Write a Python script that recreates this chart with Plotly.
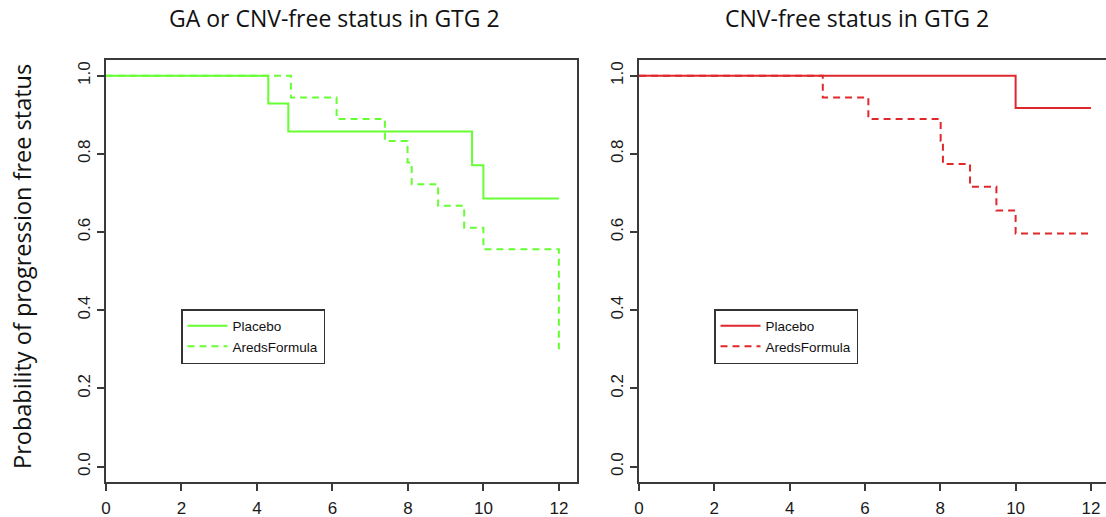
import plotly.graph_objects as go

# ---- data ----
titles = ["GA or CNV-free status in GTG 2", "CNV-free status in GTG 2"]
y_title = "Probability of progression free status"
series_names = ["Placebo", "AredsFormula"]

left_placebo_t = [0, 4.30, 4.83, 9.70, 10.0, 12.0]
left_placebo_s = [1.0, 0.929, 0.857, 0.771, 0.686, 0.686]
left_areds_t = [0, 4.90, 6.11, 7.39, 7.99, 8.10, 8.80, 9.49, 10.0, 12.0, 12.0]
left_areds_s = [1.0, 0.944, 0.889, 0.833, 0.778, 0.722, 0.667, 0.611, 0.556, 0.556, 0.30]

right_placebo_t = [0, 10.0, 12.0]
right_placebo_s = [1.0, 0.917, 0.917]
right_areds_t = [0, 4.88, 6.09, 8.01, 8.07, 8.79, 9.49, 10.0, 12.0]
right_areds_s = [1.0, 0.944, 0.889, 0.833, 0.774, 0.716, 0.655, 0.596, 0.596]

x_ticks = [0, 2, 4, 6, 8, 10, 12]
y_ticks = [0.0, 0.2, 0.4, 0.6, 0.8, 1.0]

GREEN = "#66ff33"
RED = "#e0282c"
AX = "#3a3a3a"
W, H = 1106, 517

fig = go.Figure()

def add(t, s, name, color, dash, xa, ya, leg):
    fig.add_trace(go.Scatter(x=t, y=s, mode="lines", name=name, line_shape="hv",
                             line=dict(color=color, width=2, dash=dash),
                             xaxis=xa, yaxis=ya, legend=leg, showlegend=True))

add(left_placebo_t, left_placebo_s, series_names[0], GREEN, "solid", "x", "y", "legend")
add(left_areds_t, left_areds_s, series_names[1], GREEN, "7px,5px", "x", "y", "legend")
add(right_placebo_t, right_placebo_s, series_names[0], RED, "solid", "x2", "y2", "legend2")
add(right_areds_t, right_areds_s, series_names[1], RED, "7px,5px", "x2", "y2", "legend2")

ydom = [1 - 482.3 / H, 1 - 60 / H]
tickfont = dict(family="Liberation Sans, Arial", size=17, color="#1a1a1a")
common_x = dict(tickvals=x_ticks, ticks="outside", ticklen=7, tickwidth=1.5, tickcolor=AX,
                showline=True, linecolor=AX, linewidth=1.5, showgrid=False, zeroline=False,
                tickfont=tickfont, automargin=False, ticklabelstandoff=3)
common_y = dict(tickvals=y_ticks, tickformat=".1f", ticks="outside", ticklen=7, tickwidth=1.5,
                tickcolor=AX, showline=True, linecolor=AX, linewidth=1.5, showgrid=False,
                zeroline=False, tickfont=tickfont, tickangle=-90, range=[-0.04, 1.04], domain=ydom,
                automargin=False)

legfont = dict(family="Liberation Sans, Arial", size=13.5, color="#111")
tfont = dict(family="Open Sans", size=23, color="#111")
yfont = dict(family="Open Sans", size=23.5, color="#111")
fig.update_layout(
    width=W, height=H, margin=dict(l=0, r=0, t=0, b=0, autoexpand=False),
    paper_bgcolor="white", plot_bgcolor="white",
    xaxis=dict(common_x, domain=[106 / W, 577 / W], range=[0, 12.48], mirror=True, anchor="y"),
    yaxis=dict(common_y, mirror=True, anchor="x"),
    xaxis2=dict(common_x, domain=[639 / W, 1.0], range=[0, 12.40], mirror=True, anchor="y2"),
    yaxis2=dict(common_y, mirror=False, anchor="x2"),
    legend=dict(x=181 / W, y=1 - 309 / H, xanchor="left", yanchor="top", bordercolor="#333",
                borderwidth=1.5, bgcolor="white", font=legfont, itemwidth=40, tracegroupgap=0),
    legend2=dict(x=714 / W, y=1 - 309 / H, xanchor="left", yanchor="top", bordercolor="#333",
                 borderwidth=1.5, bgcolor="white", font=legfont, itemwidth=40, tracegroupgap=0),
    annotations=[
        dict(text=titles[0], x=334 / W, y=1 - 18 / H, xref="paper", yref="paper",
             xanchor="center", yanchor="middle", showarrow=False, font=tfont),
        dict(text=titles[1], x=857 / W, y=1 - 18 / H, xref="paper", yref="paper",
             xanchor="center", yanchor="middle", showarrow=False, font=tfont),
        dict(text=y_title, x=22 / W, y=1 - 267 / H, xref="paper", yref="paper", textangle=-90,
             xanchor="center", yanchor="middle", showarrow=False, font=yfont),
    ],
)

fig.write_html("out.html", post_script="document.body.style.margin='0';",
               config={"displayModeBar": False})
